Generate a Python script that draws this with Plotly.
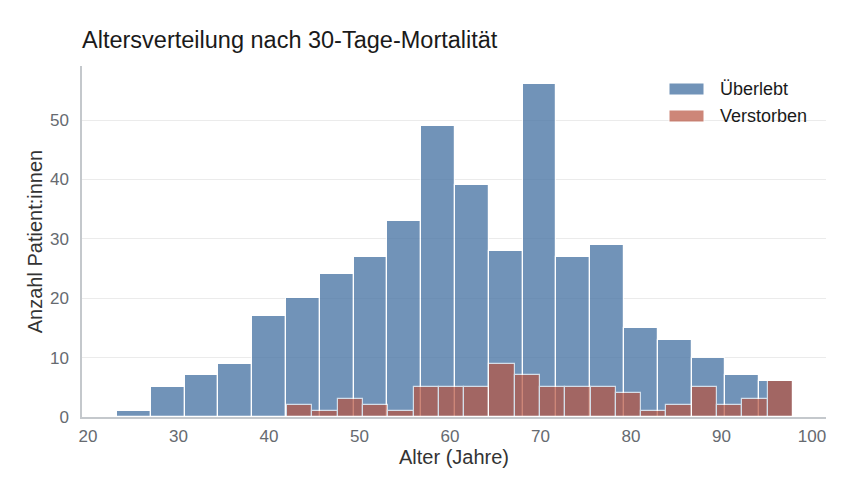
import plotly.graph_objects as go

# ---- data ----
series_names = ["Überlebt", "Verstorben"]
survived_counts = [1, 5, 7, 9, 17, 20, 24, 27, 33, 49, 39, 28, 56, 27, 29, 15, 13, 10, 7, 6]
died_counts = [2, 1, 3, 2, 1, 5, 5, 5, 9, 7, 5, 5, 5, 4, 1, 2, 5, 2, 3, 6]
survived_range = [23.2, 97.9]   # min / max age of group
died_range = [42.0, 97.9]
x_ticks = [20, 30, 40, 50, 60, 70, 80, 90, 100]
y_ticks = [0, 10, 20, 30, 40, 50]

title = "Altersverteilung nach 30-Tage-Mortalität"
x_title = "Alter (Jahre)"
y_title = "Anzahl Patient:innen"

BLUE = "rgb(78,121,167)"
RED = "rgb(184,84,64)"
FONT = "Liberation Sans, Arial, sans-serif"


def bins(rng, counts):
    n = len(counts)
    w = (rng[1] - rng[0]) / n
    centers = [rng[0] + w * (i + 0.5) for i in range(n)]
    return centers, w


fig = go.Figure()
for name, rng, counts, color, op in [
    (series_names[0], survived_range, survived_counts, BLUE, 0.8),
    (series_names[1], died_range, died_counts, RED, 0.7),
]:
    cx, w = bins(rng, counts)
    fig.add_trace(go.Bar(
        x=cx, y=counts, width=w, name=name,
        marker=dict(color=color, line=dict(color="white", width=1.2)),
        opacity=op, showlegend=False,
    ))

# custom legend (wide patches like the reference)
for i, (name, color, op) in enumerate([(series_names[0], BLUE, 0.8), (series_names[1], RED, 0.7)]):
    y0 = 83 + i * 27
    fig.add_shape(type="rect", xref="paper", yref="paper",
                  x0=(669 - 82) / 744, x1=(704 - 82) / 744,
                  y0=(417 - (y0 + 12)) / 351, y1=(417 - y0) / 351,
                  fillcolor=color, opacity=op,
                  line=dict(color="white", width=1))
    fig.add_annotation(xref="paper", yref="paper",
                       x=(718 - 82) / 744, y=(417 - (y0 + 6)) / 351,
                       text=name, showarrow=False, xanchor="left", yanchor="middle",
                       font=dict(size=18, color="#1a1a1a", family=FONT))

fig.update_layout(
    barmode="overlay",
    bargap=0,
    width=855, height=496,
    margin=dict(l=82, r=29, t=66, b=79),
    paper_bgcolor="white", plot_bgcolor="white",
    font=dict(family=FONT, color="#333"),
    title=dict(text=title, x=82 / 855, xanchor="left", y=1 - 40 / 496, yanchor="middle",
               font=dict(size=23.5, color="#1a1a1a", family=FONT)),
    xaxis=dict(
        range=[19.34, 101.55], tickvals=x_ticks, showgrid=False, zeroline=False,
        showline=True, linecolor="#c4c8cc", linewidth=1.5,
        ticks="outside", ticklen=3, tickcolor="rgba(0,0,0,0)",
        tickfont=dict(size=17, color="#666a70"),
        title=dict(text=x_title, font=dict(size=20, color="#333"), standoff=1),
    ),
    yaxis=dict(
        range=[0, 59.1], tickvals=y_ticks, showgrid=True, gridcolor="#ebebeb", gridwidth=1,
        zeroline=False, showline=True, linecolor="#c4c8cc", linewidth=1.5,
        ticks="outside", ticklen=8, tickcolor="rgba(0,0,0,0)",
        tickfont=dict(size=17, color="#666a70"),
        title=dict(text=y_title, font=dict(size=20, color="#333"), standoff=2),
    ),
)

fig.write_html("out.html")
